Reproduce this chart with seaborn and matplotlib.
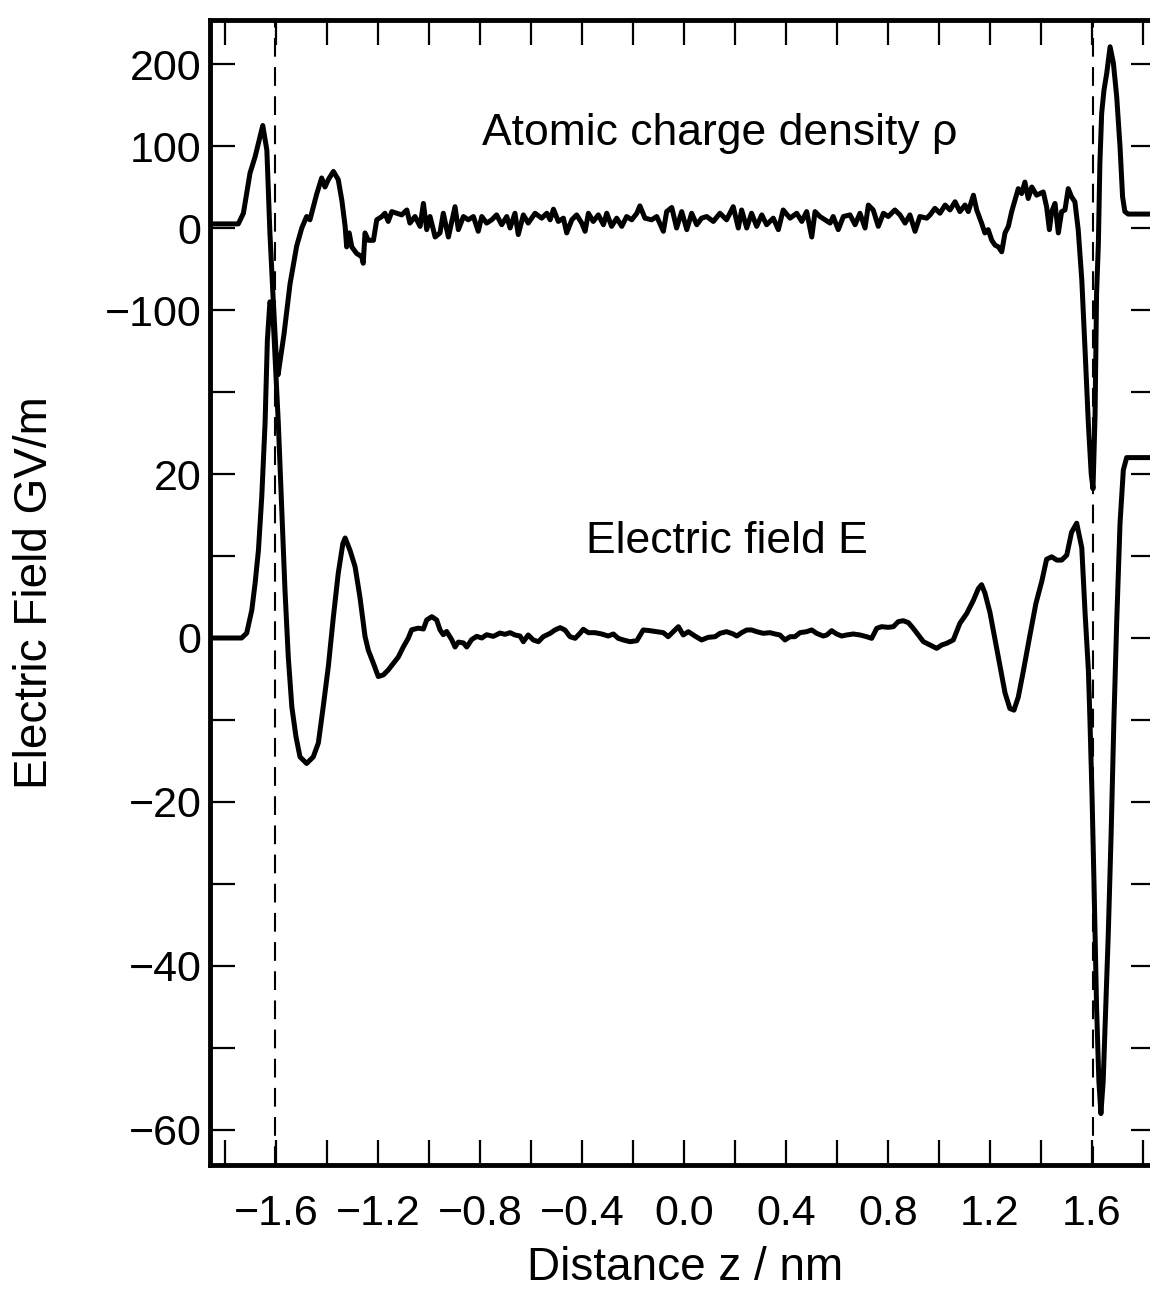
import pandas as pd
import seaborn as sns
import matplotlib.pyplot as plt

# atomic charge density rho, z in nm
rho_z = [-1.859, -1.748, -1.728, -1.702, -1.682, -1.663, -1.652, -1.636, -1.624, -1.611,
         -1.597, -1.592, -1.569, -1.545, -1.519, -1.499, -1.480, -1.467, -1.440, -1.421,
         -1.408, -1.395, -1.375, -1.356, -1.342, -1.329, -1.323, -1.313, -1.303, -1.284,
         -1.264, -1.258, -1.251, -1.238, -1.218, -1.205, -1.185, -1.173, -1.160, -1.146,
         -1.127, -1.107, -1.087, -1.075, -1.055, -1.035, -1.022, -1.009, -0.996, -0.976,
         -0.957, -0.944, -0.924, -0.898, -0.885, -0.865, -0.846, -0.826, -0.807, -0.793,
         -0.774, -0.754, -0.735, -0.715, -0.695, -0.682, -0.663, -0.650, -0.630, -0.611,
         -0.584, -0.558, -0.538, -0.525, -0.512, -0.493, -0.473, -0.460, -0.440, -0.421,
         -0.401, -0.388, -0.375, -0.356, -0.336, -0.316, -0.303, -0.284, -0.264, -0.244,
         -0.225, -0.205, -0.185, -0.173, -0.153, -0.127, -0.107, -0.081, -0.068, -0.048,
         -0.029, -0.009, 0.011, 0.030, 0.050, 0.069, 0.089, 0.115, 0.141, 0.167,
         0.193, 0.213, 0.226, 0.246, 0.265, 0.285, 0.305, 0.324, 0.350, 0.370,
         0.389, 0.416, 0.442, 0.462, 0.481, 0.501, 0.514, 0.533, 0.553, 0.573,
         0.585, 0.605, 0.625, 0.651, 0.671, 0.690, 0.710, 0.723, 0.742, 0.762,
         0.782, 0.801, 0.827, 0.847, 0.867, 0.886, 0.906, 0.925, 0.952, 0.965,
         0.984, 1.004, 1.024, 1.043, 1.063, 1.082, 1.102, 1.115, 1.135, 1.148,
         1.167, 1.180, 1.193, 1.207, 1.220, 1.233, 1.246, 1.259, 1.272, 1.285,
         1.298, 1.311, 1.324, 1.337, 1.350, 1.364, 1.383, 1.396, 1.409, 1.422,
         1.433, 1.442, 1.455, 1.468, 1.481, 1.494, 1.507, 1.520, 1.533, 1.546,
         1.560, 1.573, 1.586, 1.597, 1.604, 1.612, 1.618, 1.625, 1.631, 1.638,
         1.647, 1.658, 1.671, 1.684, 1.697, 1.710, 1.720, 1.729, 1.742, 1.867]
rho_val = [5, 5, 18, 67, 87, 111, 125, 95, -6, -88,
           -169, -179, -130, -68, -22, 0, 14, 10, 42, 61,
           50, 59, 69, 59, 34, 2, -23, -6, -23, -31,
           -35, -43, -6, -15, -15, 10, 14, 18, 8, 20,
           18, 16, 22, 6, 14, 2, 30, -2, 14, -11,
           -6, 18, -11, 26, -2, 14, 10, 14, -4, 14,
           6, 10, 16, 4, 14, 0, 18, -8, 16, 6,
           18, 12, 18, 10, 23, 8, 12, -6, 10, 16,
           6, -4, 18, 8, 16, 4, 18, 2, 12, 2,
           14, 10, 18, 27, 12, 10, 14, -4, 20, 25,
           0, 20, -2, 18, 4, 12, 14, 8, 18, 10,
           26, 0, 22, 0, 18, 2, 16, 4, 12, -2,
           22, 12, 18, 8, 20, -11, 20, 14, 10, 6,
           14, -2, 14, 16, 4, 18, 0, 28, 22, 2,
           18, 14, 22, 16, 6, 16, -4, 14, 12, 16,
           24, 18, 28, 22, 32, 20, 28, 20, 40, 22,
           6, -6, -2, -15, -21, -23, -29, -6, 2, 20,
           34, 48, 42, 56, 36, 50, 40, 42, 44, 26,
           -2, 20, 30, -6, 20, 22, 48, 38, 32, -2,
           -63, -150, -240, -300, -318, -230, -80, -20, 79, 140,
           168, 189, 221, 201, 160, 99, 38, 20, 17, 17]

# electric field E in GV/m
e_z = [-1.859, -1.735, -1.715, -1.695, -1.682, -1.669, -1.656, -1.643, -1.634, -1.624,
       -1.613, -1.604, -1.591, -1.578, -1.565, -1.552, -1.538, -1.522, -1.506, -1.480,
       -1.454, -1.434, -1.415, -1.395, -1.375, -1.356, -1.338, -1.329, -1.310, -1.290,
       -1.271, -1.251, -1.238, -1.218, -1.199, -1.179, -1.160, -1.140, -1.120, -1.101,
       -1.081, -1.068, -1.042, -1.022, -1.009, -0.989, -0.970, -0.957, -0.944, -0.931,
       -0.911, -0.898, -0.885, -0.865, -0.852, -0.833, -0.813, -0.793, -0.774, -0.748,
       -0.722, -0.702, -0.682, -0.663, -0.643, -0.630, -0.611, -0.591, -0.571, -0.552,
       -0.525, -0.506, -0.486, -0.467, -0.447, -0.427, -0.408, -0.395, -0.375, -0.349,
       -0.323, -0.297, -0.277, -0.258, -0.238, -0.212, -0.185, -0.160, -0.133, -0.107,
       -0.081, -0.062, -0.042, -0.022, -0.003, 0.017, 0.043, 0.069, 0.095, 0.122,
       0.141, 0.167, 0.193, 0.207, 0.226, 0.246, 0.265, 0.285, 0.311, 0.337,
       0.357, 0.376, 0.396, 0.416, 0.435, 0.455, 0.481, 0.501, 0.520, 0.546,
       0.560, 0.579, 0.599, 0.618, 0.638, 0.664, 0.690, 0.716, 0.736, 0.756,
       0.775, 0.801, 0.821, 0.840, 0.860, 0.880, 0.899, 0.919, 0.939, 0.965,
       0.991, 1.011, 1.030, 1.056, 1.082, 1.109, 1.135, 1.154, 1.167, 1.180,
       1.200, 1.220, 1.239, 1.259, 1.278, 1.294, 1.311, 1.331, 1.357, 1.380,
       1.403, 1.422, 1.442, 1.462, 1.481, 1.501, 1.520, 1.540, 1.560, 1.573,
       1.586, 1.592, 1.600, 1.608, 1.618, 1.627, 1.635, 1.644, 1.655, 1.664,
       1.675, 1.686, 1.697, 1.710, 1.723, 1.736, 1.867]
e_val = [0, 0, 0.6, 3.4, 6.7, 10.7, 17.2, 26.2, 36.3, 41,
         40, 34.3, 26.2, 16, 5.9, -2.3, -8.4, -12, -14.5, -15.3,
         -14.5, -12.8, -8.4, -3.5, 2.6, 7.9, 11.5, 12.2, 10.7, 8.7,
         5, 0.2, -1.5, -3.1, -4.7, -4.5, -3.9, -3.1, -2.3, -1.1,
         0, 1.0, 1.2, 1.1, 2.2, 2.6, 2.2, 1.0, 0.4, 0.8,
         -0.2, -1.1, -0.5, -0.6, -1.1, -0.2, 0.2, 0, 0.4, 0.2,
         0.6, 0.45, 0.65, 0.37, 0.24, -0.45, 0.37, -0.24, -0.45, 0.16,
         0.57, 0.98, 1.26, 0.98, 0.16, -0.04, 0.57, 1.06, 0.65, 0.65,
         0.49, 0.24, 0.49, -0.04, -0.24, -0.45, -0.33, 0.98, 0.89, 0.77,
         0.65, 0.16, 0.77, 1.38, 0.37, 0.77, 0.24, -0.24, 0.08, 0.16,
         0.57, 0.77, 0.49, 0.24, 0.65, 0.98, 0.98, 0.77, 0.57, 0.65,
         0.49, 0.37, -0.24, 0.16, 0.16, 0.65, 0.77, 0.98, 0.57, 0.24,
         0.37, 0.89, 0.49, 0.24, 0.37, 0.49, 0.37, 0.16, -0.04, 1.18,
         1.38, 1.30, 1.38, 1.99, 2.11, 1.87, 1.18, 0.37, -0.45, -0.85,
         -1.26, -0.85, -0.65, -0.24, 1.79, 3.0, 4.6, 6.0, 6.5, 5.5,
         3.1, -0.2, -3.4, -6.7, -8.6, -8.8, -7.2, -4.0, 0.4, 4.2,
         6.9, 9.6, 9.9, 9.5, 9.5, 10.1, 12.9, 14.0, 11.0, 3.0,
         -4, -10, -19, -30, -45, -54, -58, -54, -44, -36,
         -24, -10, 2, 14, 20.5, 22, 22]

boundary_z = [-1.605, 1.605]

x_ticks = [-1.8, -1.6, -1.4, -1.2, -1.0, -0.8, -0.6, -0.4, -0.2, 0.0,
           0.2, 0.4, 0.6, 0.8, 1.0, 1.2, 1.4, 1.6, 1.8]
x_labels = ['', '\u22121.6', '', '\u22121.2', '', '\u22120.8', '', '\u22120.4', '', '0.0',
            '', '0.4', '', '0.8', '', '1.2', '', '1.6', '']
# one axis in E units; the rho curve sits on top with rho = 10 * (E - 50)
y_ticks = [-60, -50, -40, -30, -20, -10, 0, 10, 20, 30, 40, 50, 60, 70]
y_labels = ['\u221260', '', '\u221240', '', '\u221220', '', '0', '', '20', '',
            '\u2212100', '0', '100', '200']
rho_offset = 50
rho_scale = 0.1

sns.set_style("ticks")
plt.rcParams['font.family'] = ['Liberation Sans', 'DejaVu Sans']
plt.rcParams.update({'text.color': 'black', 'axes.labelcolor': 'black',
                     'xtick.color': 'black', 'ytick.color': 'black',
                     'axes.edgecolor': 'black'})

fig = plt.figure(figsize=(11.5, 12.89), dpi=100)
ax = fig.add_axes([0.1826, 0.0962, 0.8226, 0.8883])

df_rho = pd.DataFrame({'z': rho_z, 'y': [rho_offset + r * rho_scale for r in rho_val]})
df_e = pd.DataFrame({'z': e_z, 'y': e_val})

sns.lineplot(data=df_rho, x='z', y='y', color='black', lw=3.6, estimator=None,
             sort=False, ax=ax, solid_joinstyle='round')
sns.lineplot(data=df_e, x='z', y='y', color='black', lw=3.6, estimator=None,
             sort=False, ax=ax, solid_joinstyle='round')

for z in boundary_z:
    ax.axvline(z, color='black', lw=1.5, ls=(0, (9, 5)))

ax.text(0.141, 60.1, 'Atomic charge density \u03c1', ha='center', va='baseline', fontsize=32)
ax.text(0.169, 10.4, 'Electric field E', ha='center', va='baseline', fontsize=32)

ax.set_xlim(-1.859, 1.851)
ax.set_ylim(-64.27, 75.37)
ax.set_xticks(x_ticks, x_labels)
ax.set_yticks(y_ticks, y_labels)

for s in ax.spines.values():
    s.set_linewidth(3.5)
    s.set_color('black')
ax.tick_params(direction='in', length=18, width=1.6, top=True, right=True,
               labelsize=31, colors='black')
ax.tick_params(axis='x', pad=21)
ax.tick_params(axis='y', pad=6)

ax.set_xlabel('Distance z / nm', fontsize=33)
ax.set_ylabel('Electric Field GV/m', fontsize=33, va='center')
ax.xaxis.set_label_coords(0.502, -0.071)
ax.yaxis.set_label_coords(-0.185, 0.5)

fig.savefig("out.png", dpi=100)
